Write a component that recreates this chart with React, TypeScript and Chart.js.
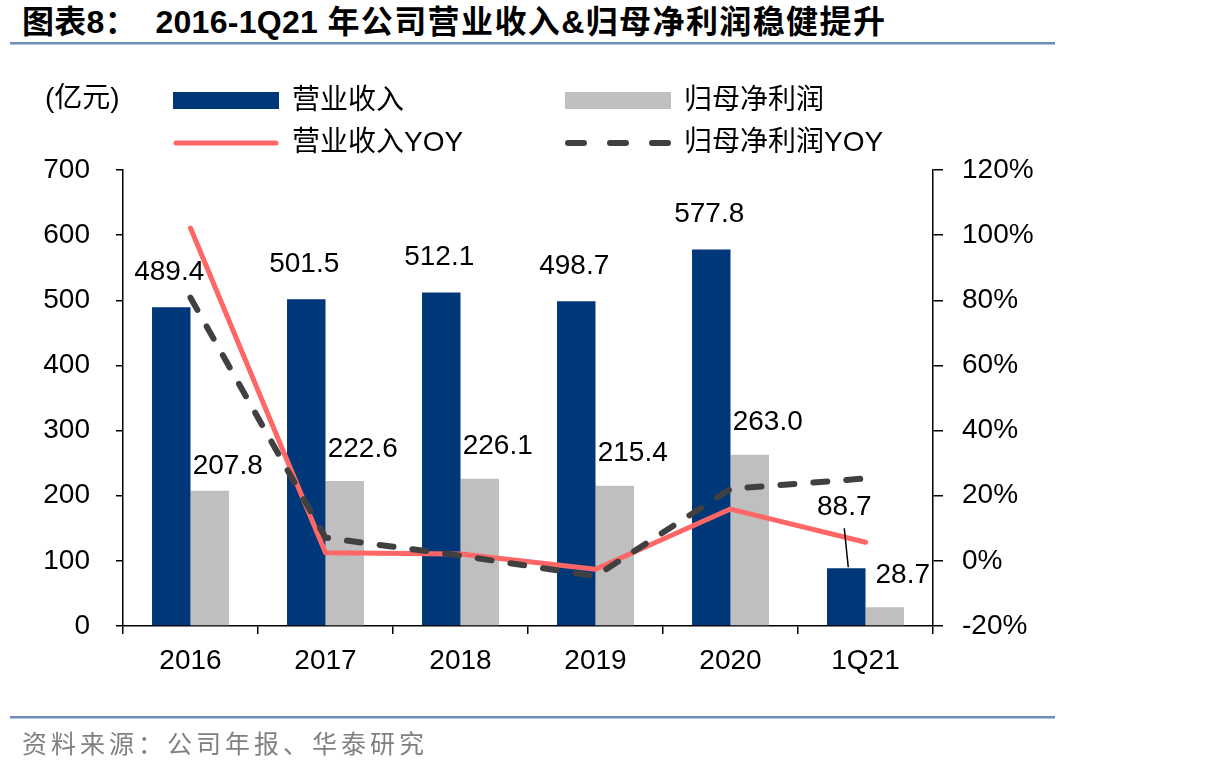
import React, { useEffect, useRef } from "react";
import { Chart, registerables } from "chart.js";

Chart.register(...registerables);

// Categories and series (亿元 / %)
const categories = ["2016", "2017", "2018", "2019", "2020", "1Q21"];
const revenue = [489.4, 501.5, 512.1, 498.7, 577.8, 88.7];
const netProfit = [207.8, 222.6, 226.1, 215.4, 263.0, 28.7];
const revenueYoy = [102.2, 2.5, 2.1, -2.6, 15.9, 5.7];
const netProfitYoy = [80.8, 7.1, 1.6, -4.7, 22.1, 25.3];

const seriesNames = ["营业收入", "归母净利润", "营业收入YOY", "归母净利润YOY"];
const unitLabel = "(亿元)";
const titleLead = "图表8：  2016-1Q21 ";
const titleMain = "年公司营业收入&归母净利润稳健提升";
const sourceText = "资料来源：公司年报、华泰研究";

const BLUE = "#003778";
const GRAY = "#BFBFBF";
const RED = "#FF6666";
const DARK = "#404040";
const FONT = '"Liberation Sans", Arial, "Noto Sans CJK SC", sans-serif';

// Value labels over the bars, with a leader line for the last revenue bar
const valueLabels = {
  id: "valueLabels",
  afterDatasetsDraw(chart: any) {
    const ctx = chart.ctx;
    ctx.save();
    ctx.font = `28px ${FONT}`;
    ctx.fillStyle = "#000";
    ctx.textAlign = "center";
    ctx.textBaseline = "middle";
    [0, 1].forEach((di) => {
      const meta = chart.getDatasetMeta(di);
      const values = chart.data.datasets[di].data as number[];
      meta.data.forEach((bar: any, i: number) => {
        const text = values[i].toFixed(1);
        if (di === 0) {
          if (i === values.length - 1) {
            ctx.fillText(text, bar.x - 2, bar.y - 61);
            ctx.beginPath();
            ctx.lineWidth = 1.5;
            ctx.strokeStyle = "#000";
            ctx.moveTo(bar.x - 2, bar.y - 40);
            ctx.lineTo(bar.x + 2, bar.y - 1);
            ctx.stroke();
          } else {
            ctx.fillText(text, bar.x - 2, bar.y - 35);
          }
        } else {
          ctx.fillText(text, bar.x + 18, bar.y - (i === 0 ? 24 : 32));
        }
      });
    });
    ctx.restore();
  },
};

// Two-column legend and unit label above the plot
const topLegend = {
  id: "topLegend",
  afterDraw(chart: any) {
    const ctx = chart.ctx;
    ctx.save();
    ctx.font = `28px ${FONT}`;
    ctx.fillStyle = "#000";
    ctx.textBaseline = "middle";
    ctx.textAlign = "left";
    ctx.fillText(unitLabel, 45, 99);
    const cols = [173, 565];
    const rows = [101, 143];
    chart.data.datasets.forEach((ds: any, i: number) => {
      const x = cols[i % 2];
      const y = rows[Math.floor(i / 2)];
      if (ds.type === "line") {
        ctx.beginPath();
        ctx.lineWidth = ds.borderWidth;
        ctx.strokeStyle = ds.borderColor;
        ctx.lineCap = "round";
        ctx.setLineDash(ds.borderDash && ds.borderDash.length ? [16, 26] : []);
        ctx.moveTo(x + 3, y);
        ctx.lineTo(x + 103, y);
        ctx.stroke();
        ctx.setLineDash([]);
      } else {
        ctx.fillStyle = ds.backgroundColor;
        ctx.fillRect(x, y - 9, 106, 17);
      }
      ctx.fillStyle = "#000";
      ctx.fillText(ds.label, x + 119, y);
    });
    ctx.restore();
  },
};

export default function App() {
  const canvasRef = useRef<HTMLCanvasElement | null>(null);

  useEffect(() => {
    document.body.style.margin = "0";
    const canvas = canvasRef.current;
    if (!canvas) return;
    const tickFont = { family: FONT, size: 28 };
    const chart = new Chart(canvas, {
      type: "bar",
      data: {
        labels: categories,
        datasets: [
          {
            type: "bar",
            label: seriesNames[0],
            data: revenue,
            backgroundColor: BLUE,
            yAxisID: "y",
            order: 3,
            categoryPercentage: 0.57,
            barPercentage: 1,
          },
          {
            type: "bar",
            label: seriesNames[1],
            data: netProfit,
            backgroundColor: GRAY,
            yAxisID: "y",
            order: 3,
            categoryPercentage: 0.57,
            barPercentage: 1,
          },
          {
            type: "line",
            label: seriesNames[2],
            data: revenueYoy,
            borderColor: RED,
            backgroundColor: RED,
            borderWidth: 5,
            pointRadius: 0,
            tension: 0,
            borderCapStyle: "round",
            borderJoinStyle: "round",
            yAxisID: "y1",
            order: 1,
          },
          {
            type: "line",
            label: seriesNames[3],
            data: netProfitYoy,
            borderColor: DARK,
            backgroundColor: DARK,
            borderWidth: 6,
            borderDash: [14, 19],
            pointRadius: 0,
            tension: 0,
            borderCapStyle: "round",
            borderJoinStyle: "round",
            yAxisID: "y1",
            order: 0,
          },
        ] as any,
      },
      options: {
        responsive: true,
        maintainAspectRatio: false,
        animation: false,
        layout: { padding: { top: 170, left: 0, right: 0, bottom: 0 } },
        plugins: {
          legend: { display: false },
          title: { display: false },
          tooltip: { enabled: false },
        },
        scales: {
          x: {
            grid: {
              drawOnChartArea: false,
              drawTicks: true,
              tickLength: 8,
              color: "#000",
              lineWidth: 1.5,
              offset: true,
            },
            border: { color: "#000", width: 1.5 },
            ticks: { font: tickFont, color: "#000", padding: 10, maxRotation: 0 },
            afterFit: (s: any) => {
              s.height = 146;
            },
          },
          y: {
            position: "left",
            min: 0,
            max: 700,
            grid: {
              drawOnChartArea: false,
              drawTicks: true,
              tickLength: 7,
              color: "#000",
              lineWidth: 1.5,
            },
            border: { color: "#000", width: 1.5 },
            ticks: { stepSize: 100, font: tickFont, color: "#000", padding: 26 },
            afterFit: (s: any) => {
              s.width = 123;
            },
          },
          y1: {
            position: "right",
            min: -20,
            max: 120,
            grid: {
              drawOnChartArea: false,
              drawTicks: true,
              tickLength: 10,
              color: "#000",
              lineWidth: 1.5,
            },
            border: { color: "#000", width: 1.5 },
            ticks: {
              stepSize: 20,
              font: tickFont,
              color: "#000",
              padding: 19,
              callback: (v: any) => `${v}%`,
            },
            afterFit: (s: any) => {
              s.width = 273;
            },
          },
        },
      },
      plugins: [valueLabels, topLegend],
    });
    return () => chart.destroy();
  }, []);

  return (
    <div style={{ position: "relative", width: 1206, height: 772, background: "#fff", overflow: "hidden" }}>
      <div
        style={{
          position: "absolute",
          left: 22,
          top: 2,
          fontFamily: '"Liberation Sans", "Noto Sans CJK SC", sans-serif',
          fontWeight: "bold",
          fontSize: 32,
          whiteSpace: "pre",
          color: "#000",
          lineHeight: "40px",
          letterSpacing: 0.3,
        }}
      >
        {titleLead}
        <span style={{ letterSpacing: 1.4 }}>{titleMain}</span>
      </div>
      <div style={{ position: "absolute", left: 10, top: 42, width: 1045, height: 2, background: "#6F8DB9" }} />
      <div style={{ position: "absolute", left: 10, top: 44, width: 1045, height: 1, background: "#B4C6DE" }} />
      <div style={{ position: "absolute", left: 0, top: 0, width: 1206, height: 772 }}>
        <canvas ref={canvasRef} />
      </div>
      <div style={{ position: "absolute", left: 10, top: 716, width: 1045, height: 2, background: "#6F8DB9" }} />
      <div style={{ position: "absolute", left: 10, top: 718, width: 1045, height: 1, background: "#B4C6DE" }} />
      <div
        style={{
          position: "absolute",
          left: 22,
          top: 726,
          fontFamily: '"Noto Sans CJK SC", sans-serif',
          fontSize: 25,
          letterSpacing: 4,
          color: "#808080",
          whiteSpace: "pre",
          lineHeight: "32px",
        }}
      >
        {sourceText}
      </div>
    </div>
  );
}
